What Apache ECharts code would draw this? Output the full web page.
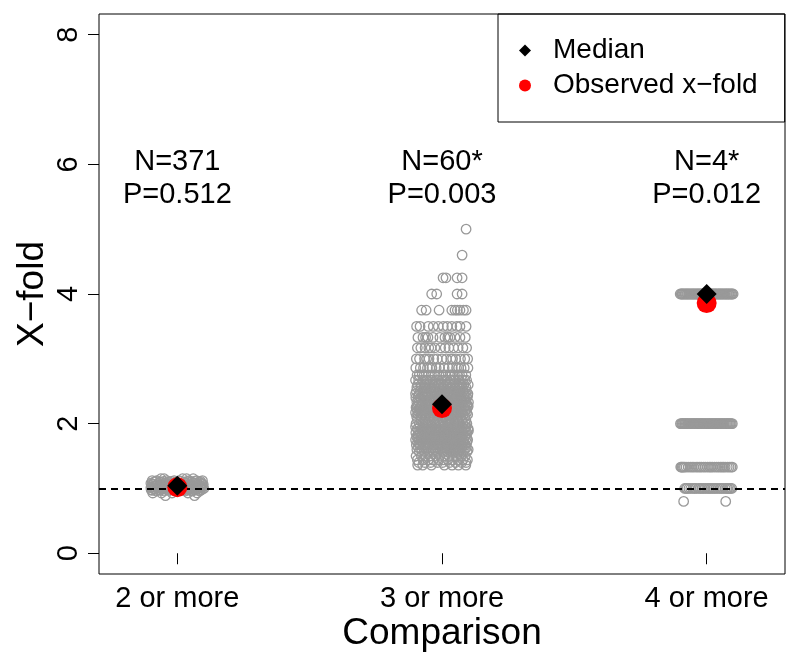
<!DOCTYPE html>
<html>
<head>
<meta charset="utf-8">
<script src="https://cdn.jsdelivr.net/npm/echarts@6/dist/echarts.min.js"></script>
<style>
html,body{margin:0;padding:0;background:#fff;}
#chart{width:800px;height:665px;}
</style>
</head>
<body>
<div id="chart"></div>
<script>
// ---- data ----
const categories = ['2 or more', '3 or more', '4 or more'];
const nLabels = ['N=371', 'N=60*', 'N=4*'];
const pLabels = ['P=0.512', 'P=0.003', 'P=0.012'];
const medians = [1.04, 2.3, 4.0];
const observed = [1.02, 2.24, 3.86];
const yTicks = [0, 2, 4, 6, 8];
const xTicks = [1, 2, 3];
const nullFold = 1;

// permuted x-fold values per group: [value, jitter of each point at that value (thousandths of a group)]
const g1Rows = [
  [1.15, [-62, -50, 20, 35, 60]],
  [1.12, [-95, -78, -40, -12, 8, 45, 72, 95]],
  [1.11, [-82, -52, -22, 12, 38, 66, 88]],
  [1.10, [-88, -65, -30, -5, 25, 55, 83]],
  [1.08, [-100, -72, -48, -20, 2, 30, 62, 90]],
  [1.07, [-95, -62, -38, -5, 20, 48, 76, 94]],
  [1.06, [-92, -58, -35, -10, 15, 40, 70, 98]],
  [1.05, [-78, -50, -28, 5, 33, 57, 85]],
  [1.04, [-84, -66, -25, 0, 22, 50, 78]],
  [1.03, [-90, -60, -35, -8, 18, 42, 70, 96]],
  [1.02, [-97, -75, -45, -15, 10, 35, 60, 88]],
  [1.01, [-100, -68, -40, -22, 6, 32, 64, 92]],
  [1.00, [-89, -55, -30, -2, 28, 52, 80, 100]],
  [0.99, [-85, -60, -25, 12, 38, 75]],
  [0.98, [-99, -70, -40, -18, 18, 44, 68, 92]],
  [0.97, [-95, -65, -30, 0, 22, 50, 80]],
  [0.96, [-80, -50, -8, 30, 58, 85]],
  [0.93, [-93, -60, -20, 40, 75]],
  [0.89, [-45, 65]]
];

const g2Rows = [
  [5.0, [91]],
  [4.6, [76]],
  [4.25, [4, 15, 57, 76]],
  [4.0, [-39, -20, 57, 76]],
  [3.75, [-77, -60, -11, 37, 49, 58, 68, 81, 91]],
  [3.5, [-96, -83, -52, -33, -14, 5, 20, 37, 56, 68, 91]],
  [3.33, [-91, -72, -62, -53, -34, -8, 11, 22, 30, 49, 68, 88]],
  [3.17, [-93, -80, -64, -50, -41, -27, -5, 12, 26, 44, 61, 79, 93]],
  [3.0, [-97, -85, -66, -58, -49, -31, -18, 0, 17, 33, 40, 52, 70, 86, 97]],
  [2.86, [-99, -82, -70, -55, -46, -38, -22, -9, 8, 24, 39, 55, 63, 72, 84, 98]],
  [2.75, [-94, -86, -75, -67, -51, -40, -26, -12, 3, 15, 30, 36, 47, 59, 66, 76, 90]],
  [2.67, [-100, -88, -73, -61, -57, -45, -33, -17, -4, 10, 21, 35, 44, 50, 64, 78, 86, 93]],
  [2.6, [-92, -79, -64, -49, -36, -24, -11, -3, 6, 18, 29, 41, 57, 69, 74, 83, 99]],
  [2.56, [-95, -80, -68, -52, -40, -26, -10, 4, 17, 34, 48, 63, 77, 90]],
  [2.5, [-97, -84, -71, -66, -58, -43, -30, -15, -1, 13, 26, 31, 38, 53, 60, 67, 80, 92]],
  [2.46, [-100, -86, -71, -55, -42, -18, -3, 11, 24, 40, 52, 69, 84, 98]],
  [2.43, [-90, -76, -62, -53, -38, -28, -20, -7, 8, 20, 34, 46, 55, 62, 73, 88, 97]],
  [2.4, [-99, -81, -67, -56, -46, -32, -13, 2, 16, 28, 43, 58, 71, 85, 94]],
  [2.36, [-91, -78, -63, -48, -30, -14, 9, 21, 33, 47, 60, 75, 88]],
  [2.33, [-95, -87, -72, -60, -41, -26, -17, -9, 5, 23, 37, 49, 64, 77, 91, 100]],
  [2.29, [-89, -74, -64, -55, -39, -21, -3, 12, 30, 45, 59, 78, 95]],
  [2.27, [-94, -79, -60, -45, -27, -12, 6, 22, 37, 55, 70, 86, 99]],
  [2.25, [-98, -83, -68, -50, -35, -18, -9, 0, 18, 33, 41, 52, 66, 82, 96]],
  [2.22, [-87, -70, -57, -38, -20, -4, 15, 29, 46, 63, 77, 92]],
  [2.2, [-93, -77, -61, -52, -44, -29, -12, 7, 24, 39, 56, 72, 89]],
  [2.17, [-100, -85, -70, -56, -37, -23, -6, 10, 27, 44, 50, 61, 75, 93]],
  [2.14, [-91, -73, -66, -58, -42, -27, -14, 3, 19, 35, 48, 63, 80, 97]],
  [2.11, [-96, -80, -63, -47, -31, -16, -2, 8, 14, 29, 42, 57, 71, 86]],
  [2.06, [-93, -78, -63, -48, -32, -17, 2, 18, 32, 46, 60, 75, 90]],
  [2.0, [-98, -86, -71, -60, -54, -40, -25, -10, 5, 21, 27, 36, 50, 65, 79, 88, 94]],
  [1.95, [-100, -84, -68, -53, -38, -22, -8, 6, 20, 33, 48, 62, 77, 91]],
  [1.92, [-93, -76, -62, -45, -33, -18, -4, 12, 26, 40, 55, 70, 84, 99]],
  [1.89, [-88, -72, -57, -41, -26, -11, 4, 18, 33, 46, 60, 74, 89, 100]],
  [1.86, [-99, -82, -67, -52, -44, -36, -22, -8, 9, 24, 38, 53, 68, 81, 95]],
  [1.83, [-90, -74, -58, -43, -28, -13, 3, 17, 31, 47, 62, 76, 92]],
  [1.8, [-96, -80, -64, -49, -34, -19, -5, 11, 26, 41, 57, 72, 87]],
  [1.78, [-91, -74, -56, -41, -27, -12, 2, 18, 31, 44, 60, 76, 93]],
  [1.75, [-100, -85, -69, -53, -38, -23, -7, 8, 22, 36, 51, 66, 82, 97]],
  [1.71, [-92, -75, -58, -40, -26, -11, 6, 20, 35, 49, 64, 79, 94]],
  [1.69, [-87, -70, -52, -35, -19, -4, 12, 27, 41, 55, 70, 86]],
  [1.67, [-97, -82, -64, -48, -30, -15, 1, 15, 30, 45, 60, 73, 90]],
  [1.63, [-89, -70, -55, -37, -20, -2, 13, 28, 44, 58, 76, 92]],
  [1.6, [-95, -77, -60, -43, -27, -9, 7, 24, 39, 53, 68, 85, 99]],
  [1.57, [-86, -68, -50, -33, -16, 3, 19, 35, 48, 65, 81, 95]],
  [1.5, [-98, -78, -61, -45, -24, -8, 10, 27, 42, 57, 72, 88]],
  [1.44, [-93, -71, -52, -34, -13, 5, 22, 40, 60, 79, 96]],
  [1.4, [-88, -65, -43, -17, 2, 29, 51, 74, 91]],
  [1.36, [-92, -73, -40, 9, 38, 62, 90]]
];

const g3Rows = [
  [4.0, [-100, -96, -93, -90, -86, -82, -79, -75, -72, -68, -65, -61, -57, -54, -50, -47, -43, -39, -36, -32,
    -29, -25, -22, -18, -14, -11, -7, -4, 0, 3, 7, 10, 14, 18, 21, 25, 28, 32, 35, 39, 43, 46, 50, 53,
    57, 60, 64, 68, 71, 75, 78, 82, 85, 89, 93, 96, 100]],
  [2.0, [-99, -95, -92, -88, -84, -81, -77, -73, -70, -66, -62, -59, -55, -51, -48, -44, -40, -37, -33, -29,
    -26, -22, -18, -15, -11, -7, -3, 1, 5, 9, 12, 16, 20, 23, 27, 31, 34, 38, 42, 45, 49, 53, 56, 60,
    64, 67, 71, 75, 78, 82, 86, 89, 93, 97]],
  [1.33, [-98, -95, -92, -88, -84, -78, -70, -62, -55, -48, -40, -33, -26, -20, -12, -5, 3, 10, 16, 22, 30,
    38, 45, 52, 58, 64, 70, 78, 85, 92, 97]],
  [1.0, [-83, -78, -74, -67, -60, -52, -45, -40, -30, -24, -18, -11, -5, 3, 9, 15, 22, 28, 35, 42, 50, 56,
    62, 70, 76, 80, 86, 90, 95]],
  [0.8, [-87, 72]]
];

const groupRows = [g1Rows, g2Rows, g3Rows];

// ---- build ----
const pointData = [];
groupRows.forEach((rows, gi) => {
  rows.forEach(([v, jit]) => {
    jit.forEach(j => pointData.push([xTicks[gi] + j / 1000, v]));
  });
});
const medianData = medians.map((v, i) => [xTicks[i], v]);
const observedData = observed.map((v, i) => [xTicks[i], v]);
const annotationY = 5.78;
const annotationData = nLabels.map((n, i) => ({ value: [xTicks[i], annotationY], label: n + '\n' + pLabels[i] }));

const FONT = 'Liberation Sans, Arial, Helvetica, sans-serif';
const chart = echarts.init(document.getElementById('chart'), null, { renderer: 'canvas' });
chart.setOption({
  animation: false,
  backgroundColor: '#fff',
  textStyle: { fontFamily: FONT, color: '#000' },
  grid: { left: 99, top: 14, width: 686, height: 560, show: true, borderColor: '#000', borderWidth: 1, backgroundColor: 'transparent' },
  xAxis: {
    type: 'value', min: 0.704, max: 3.296,
    axisLine: { show: false },
    splitLine: { show: false },
    axisTick: { show: true, customValues: xTicks, length: 11, lineStyle: { color: '#000', width: 1 } },
    axisLabel: { customValues: xTicks, formatter: v => categories[Math.round(v) - 1], fontSize: 29, color: '#000', fontFamily: FONT, margin: 10 },
    name: 'Comparison', nameLocation: 'middle', nameGap: 41, nameMoveOverlap: false,
    nameTextStyle: { fontSize: 37, color: '#000', fontFamily: FONT }
  },
  yAxis: {
    type: 'value', min: -0.32, max: 8.32,
    axisLine: { show: false },
    splitLine: { show: false },
    axisTick: { show: true, customValues: yTicks, length: 11, lineStyle: { color: '#000', width: 1 } },
    axisLabel: { customValues: yTicks, rotate: 90, fontSize: 29, color: '#000', fontFamily: FONT, margin: 16 },
    name: 'X\u2212fold', nameLocation: 'middle', nameGap: 48, nameRotate: 90, nameMoveOverlap: false,
    nameTextStyle: { fontSize: 37, color: '#000', fontFamily: FONT }
  },
  legend: {
    orient: 'vertical', left: 498, top: 14,
    padding: [19, 27, 19, 21],
    itemWidth: 12, itemHeight: 12, itemGap: 0,
    borderColor: '#000', borderWidth: 1,
    selectedMode: false,
    textStyle: { fontSize: 28, lineHeight: 35, color: '#000', fontFamily: FONT, padding: [0, 0, 0, 17] },
    data: [{ name: 'Median', icon: 'diamond' }, { name: 'Observed x\u2212fold', icon: 'circle' }]
  },
  series: [
    {
      name: 'Permuted', type: 'scatter', data: pointData, z: 2, silent: true,
      symbol: 'circle', symbolSize: 9.5,
      itemStyle: { color: 'rgba(255,255,255,0)', borderColor: '#999999', borderWidth: 1.3, opacity: 1 },
      markLine: {
        silent: true, symbol: ['none', 'none'], label: { show: false }, z: 3,
        lineStyle: { type: [7, 5], color: '#000', width: 1.8, opacity: 1 },
        data: [{ yAxis: nullFold }]
      }
    },
    {
      name: 'Observed x\u2212fold', type: 'scatter', data: observedData, z: 4, silent: true,
      symbol: 'circle', symbolSize: 20, itemStyle: { color: '#ff0000', opacity: 1 }
    },
    {
      name: 'Median', type: 'scatter', data: medianData, z: 5, silent: true,
      symbol: 'diamond', symbolSize: 20, itemStyle: { color: '#000000', opacity: 1 }
    },
    {
      name: 'Annotation', type: 'scatter', data: annotationData, z: 6, silent: true,
      symbolSize: 0, itemStyle: { opacity: 1 },
      label: {
        show: true, position: 'inside', formatter: p => p.data.label, opacity: 1,
        fontSize: 29, lineHeight: 33, color: '#000', fontFamily: FONT, align: 'center'
      }
    }
  ]
});
</script>
</body>
</html>
